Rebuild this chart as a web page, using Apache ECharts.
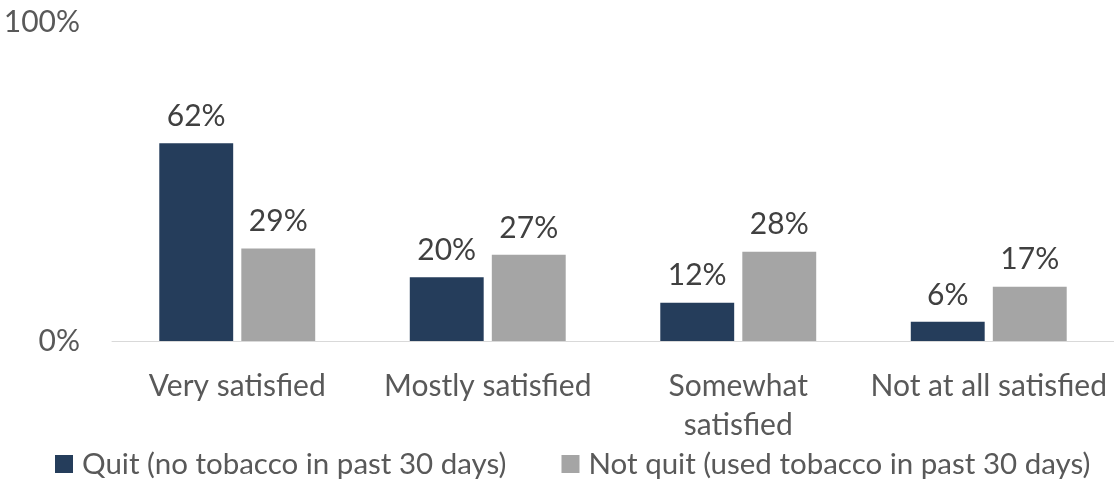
<!DOCTYPE html>
<html><head><meta charset="utf-8">
<script src="https://cdn.jsdelivr.net/npm/echarts@6/dist/echarts.min.js"></script>
<style>html,body{margin:0;padding:0;background:#fff}#c{width:1114px;height:479px}</style>
</head><body><div id="c"></div>
<script>
const categories = ['Very satisfied', 'Mostly satisfied', 'Somewhat\nsatisfied', 'Not at all satisfied'];
const seriesNames = ['Quit (no tobacco in past 30 days)', 'Not quit (used tobacco in past 30 days)'];
const quit = [62, 20, 12, 6];
const notQuit = [29, 27, 28, 17];
const yTicks = [0, 100];
const colors = ['#253D5B', '#A5A5A5'];
const FONT = 'Lato';
const FS = 30;
const chart = echarts.init(document.getElementById('c'));
chart.setOption({
  animation: false,
  textStyle: {fontFamily: FONT},
  grid: {left: 112, right: 0, top: 22, bottom: 138},
  legend: {
    top: 446, left: 55, itemWidth: 18, itemHeight: 18, itemGap: 55,
    icon: 'rect', padding: 0,
    textStyle: {fontFamily: FONT, fontSize: 29.5, color: '#595959', lineHeight: 36, padding: [0, 0, 0, 4]},
    data: seriesNames
  },
  xAxis: {
    type: 'category', data: categories,
    axisLine: {lineStyle: {color: '#D9D9D9', width: 1}},
    axisTick: {show: false},
    axisLabel: {fontFamily: FONT, fontSize: FS, color: '#595959', margin: 26, lineHeight: 39, interval: 0}
  },
  yAxis: {
    type: 'value', min: 0, max: 100, interval: 100,
    splitLine: {show: false},
    axisLabel: {fontFamily: FONT, fontSize: FS, color: '#595959', margin: 32, formatter: v => yTicks.includes(v) ? v + '%' : ''}
  },
  series: [
    {name: seriesNames[0], type: 'bar', data: quit, barWidth: '29.5%', barGap: '11%',
     itemStyle: {color: colors[0]},
     label: {show: true, position: 'top', distance: 12, formatter: '{c}%', fontFamily: FONT, fontSize: FS, color: '#404040'}},
    {name: seriesNames[1], type: 'bar', data: notQuit, barWidth: '29.5%', barGap: '11%',
     itemStyle: {color: colors[1]},
     label: {show: true, position: 'top', distance: 12, formatter: '{c}%', fontFamily: FONT, fontSize: FS, color: '#404040'}}
  ]
});
</script></body></html>
